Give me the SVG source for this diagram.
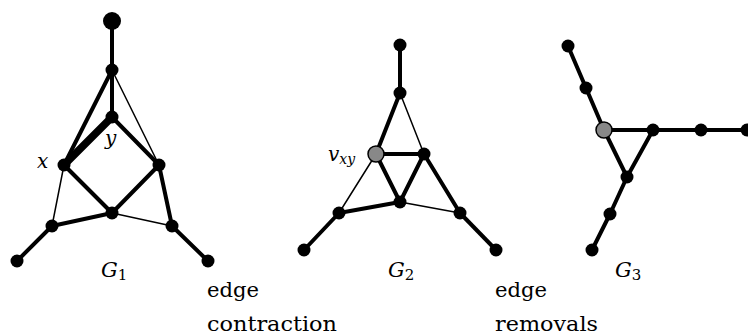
<svg xmlns="http://www.w3.org/2000/svg" width="748" height="335" viewBox="0 0 748 335">
<style>
.e{stroke:#000;stroke-linecap:round;fill:none}
.k{stroke-width:4}
.t{stroke-width:1.5}
.vk{stroke-width:7.5}
.n{fill:#000}
.g{fill:#888;stroke:#000;stroke-width:1.5}
text{font-family:'DejaVu Serif','Liberation Serif',serif;fill:#000}
.m{font-style:italic}
.w{font-size:21px}
</style>
<rect width="748" height="335" fill="#fff"/>
<g id="connectors">
<line class="e k" x1="112" y1="21" x2="112" y2="70"/>
<line class="e k" x1="112" y1="70" x2="112" y2="117"/>
<line class="e k" x1="112" y1="70" x2="64" y2="165"/>
<line class="e t" x1="112" y1="70" x2="159" y2="165"/>
<line class="e vk" x1="112" y1="117" x2="64" y2="165"/>
<line class="e k" x1="112" y1="117" x2="159" y2="165"/>
<line class="e k" x1="64" y1="165" x2="112" y2="213"/>
<line class="e k" x1="159" y1="165" x2="112" y2="213"/>
<line class="e t" x1="64" y1="165" x2="52" y2="226"/>
<line class="e k" x1="159" y1="165" x2="172" y2="226"/>
<line class="e k" x1="52" y1="226" x2="112" y2="213"/>
<line class="e t" x1="112" y1="213" x2="172" y2="226"/>
<line class="e k" x1="52" y1="226" x2="17" y2="261"/>
<line class="e k" x1="172" y1="226" x2="208" y2="261"/>
<line class="e k" x1="400" y1="45" x2="400" y2="93"/>
<line class="e k" x1="400" y1="93" x2="376" y2="154"/>
<line class="e t" x1="400" y1="93" x2="424" y2="154"/>
<line class="e k" x1="376" y1="154" x2="424" y2="154"/>
<line class="e k" x1="376" y1="154" x2="400" y2="202"/>
<line class="e k" x1="424" y1="154" x2="400" y2="202"/>
<line class="e t" x1="376" y1="154" x2="339" y2="213"/>
<line class="e k" x1="424" y1="154" x2="460" y2="213"/>
<line class="e k" x1="339" y1="213" x2="400" y2="202"/>
<line class="e t" x1="400" y1="202" x2="460" y2="213"/>
<line class="e k" x1="339" y1="213" x2="304" y2="250"/>
<line class="e k" x1="460" y1="213" x2="496" y2="250"/>
<line class="e k" x1="568" y1="46" x2="586" y2="88"/>
<line class="e k" x1="586" y1="88" x2="604" y2="130"/>
<line class="e k" x1="604" y1="130" x2="653" y2="130"/>
<line class="e k" x1="653" y1="130" x2="701" y2="130"/>
<line class="e k" x1="701" y1="130" x2="748" y2="130"/>
<line class="e k" x1="604" y1="130" x2="627" y2="177"/>
<line class="e k" x1="653" y1="130" x2="627" y2="177"/>
<line class="e k" x1="627" y1="177" x2="610" y2="214"/>
<line class="e k" x1="610" y1="214" x2="592" y2="250"/>
</g>
<g id="G1">
<circle class="n" cx="112" cy="21" r="9"/>
<circle class="n" cx="112" cy="70" r="6.5"/>
<circle class="n" cx="112" cy="117" r="6.5"/>
<circle class="n" cx="64" cy="165" r="6.5"/>
<circle class="n" cx="159" cy="165" r="6.5"/>
<circle class="n" cx="112" cy="213" r="6.5"/>
<circle class="n" cx="52" cy="226" r="6.5"/>
<circle class="n" cx="172" cy="226" r="6.5"/>
<circle class="n" cx="17" cy="261" r="6.5"/>
<circle class="n" cx="208" cy="261" r="6.5"/>
<text class="m" x="37" y="168" font-size="20">x</text>
<text class="m" x="105" y="145" font-size="20">y</text>
<text class="m" x="101" y="277" font-size="21">G<tspan font-style="normal" font-size="15" dy="3">1</tspan></text>
</g>
<g id="G2">
<circle class="n" cx="400" cy="45" r="6.5"/>
<circle class="n" cx="400" cy="93" r="6.5"/>
<circle class="n" cx="424" cy="154" r="6.5"/>
<circle class="n" cx="400" cy="202" r="6.5"/>
<circle class="n" cx="339" cy="213" r="6.5"/>
<circle class="n" cx="460" cy="213" r="6.5"/>
<circle class="n" cx="304" cy="250" r="6.5"/>
<circle class="n" cx="496" cy="250" r="6.5"/>
<circle class="g" cx="376" cy="154" r="8"/>
<text class="m" x="328" y="161" font-size="20">v<tspan font-size="14" dy="3">xy</tspan></text>
<text class="m" x="388" y="277" font-size="21">G<tspan font-style="normal" font-size="15" dy="3">2</tspan></text>
</g>
<g id="G3">
<circle class="n" cx="568" cy="46" r="6.5"/>
<circle class="n" cx="586" cy="88" r="6.5"/>
<circle class="n" cx="653" cy="130" r="6.5"/>
<circle class="n" cx="701" cy="130" r="6.5"/>
<circle class="n" cx="747" cy="130" r="6.5"/>
<circle class="n" cx="627" cy="177" r="6.5"/>
<circle class="n" cx="610" cy="214" r="6.5"/>
<circle class="n" cx="592" cy="250" r="6.5"/>
<circle class="g" cx="604" cy="130" r="8"/>
<text class="m" x="615" y="277" font-size="21">G<tspan font-style="normal" font-size="15" dy="3">3</tspan></text>
</g>
<g id="labels">
<text class="w" x="207" y="297" textLength="52" lengthAdjust="spacingAndGlyphs">edge</text>
<text class="w" x="207" y="331" textLength="130" lengthAdjust="spacingAndGlyphs">contraction</text>
<text class="w" x="495" y="297" textLength="52" lengthAdjust="spacingAndGlyphs">edge</text>
<text class="w" x="495" y="331" textLength="103" lengthAdjust="spacingAndGlyphs">removals</text>
</g>
</svg>
